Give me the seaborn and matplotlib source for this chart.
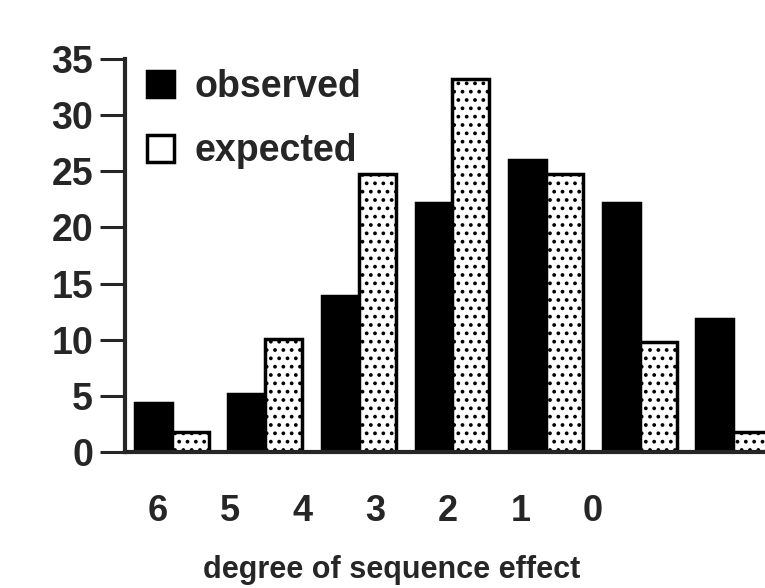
import numpy as np
import pandas as pd
import seaborn as sns
import matplotlib.pyplot as plt

# values
degrees = ["6", "5", "4", "3", "2", "1", "0"]
observed = [4.4, 5.2, 13.9, 22.2, 26.0, 22.2, 11.8]
expected = [1.8, 10.1, 24.8, 33.2, 24.8, 9.8, 1.8]
series = ["observed", "expected"]

df = pd.DataFrame({
    "degree": degrees * 2,
    "count": observed + expected,
    "kind": ["observed"] * len(degrees) + ["expected"] * len(degrees),
})

sns.set_style("white")
plt.rcParams["font.family"] = ["Liberation Sans", "DejaVu Sans"]
plt.rcParams["font.weight"] = "bold"
plt.rcParams["hatch.linewidth"] = 1.5

fig = plt.figure(figsize=(7.65, 5.88), dpi=100)
ax = fig.add_axes([0.1634, 0.2313, 0.8366, 0.6684])

sns.barplot(data=df, x="degree", y="count", hue="kind", order=degrees,
            hue_order=series, palette=["black", "white"], width=0.79,
            edgecolor="black", linewidth=2.5, saturation=1, ax=ax)

# expected bars get a stippled fill
for bar in ax.containers[1]:
    bar.set_hatch("..")

ax.set_xlim(-0.5, 6.34)
ax.set_ylim(0, 35)
ax.set_yticks(range(0, 36, 5))
ax.tick_params(axis="y", length=18, width=2.2, pad=5, labelsize=27, left=True)

# the scan has the x labels squeezed to the left of the bars
ax.set_xticks(np.arange(len(degrees)) * 0.775 - 0.15, degrees)
ax.tick_params(axis="x", length=0, pad=30, labelsize=26)
ax.set_xlabel("degree of sequence effect", fontsize=22, fontweight="bold")
ax.xaxis.set_label_coords(0.417, -0.262)
ax.set_ylabel("")

for side in ["top", "right"]:
    ax.spines[side].set_visible(False)
ax.spines["left"].set_linewidth(3)
ax.spines["bottom"].set_linewidth(3)

leg = ax.legend(loc="upper left", bbox_to_anchor=(-0.018, 1.06), frameon=False,
                fontsize=27, handlelength=0.72, handleheight=0.72,
                handletextpad=0.55, labelspacing=0.75)
for t in leg.get_texts():
    t.set_fontweight("bold")

fig.savefig("out.png", dpi=100)
